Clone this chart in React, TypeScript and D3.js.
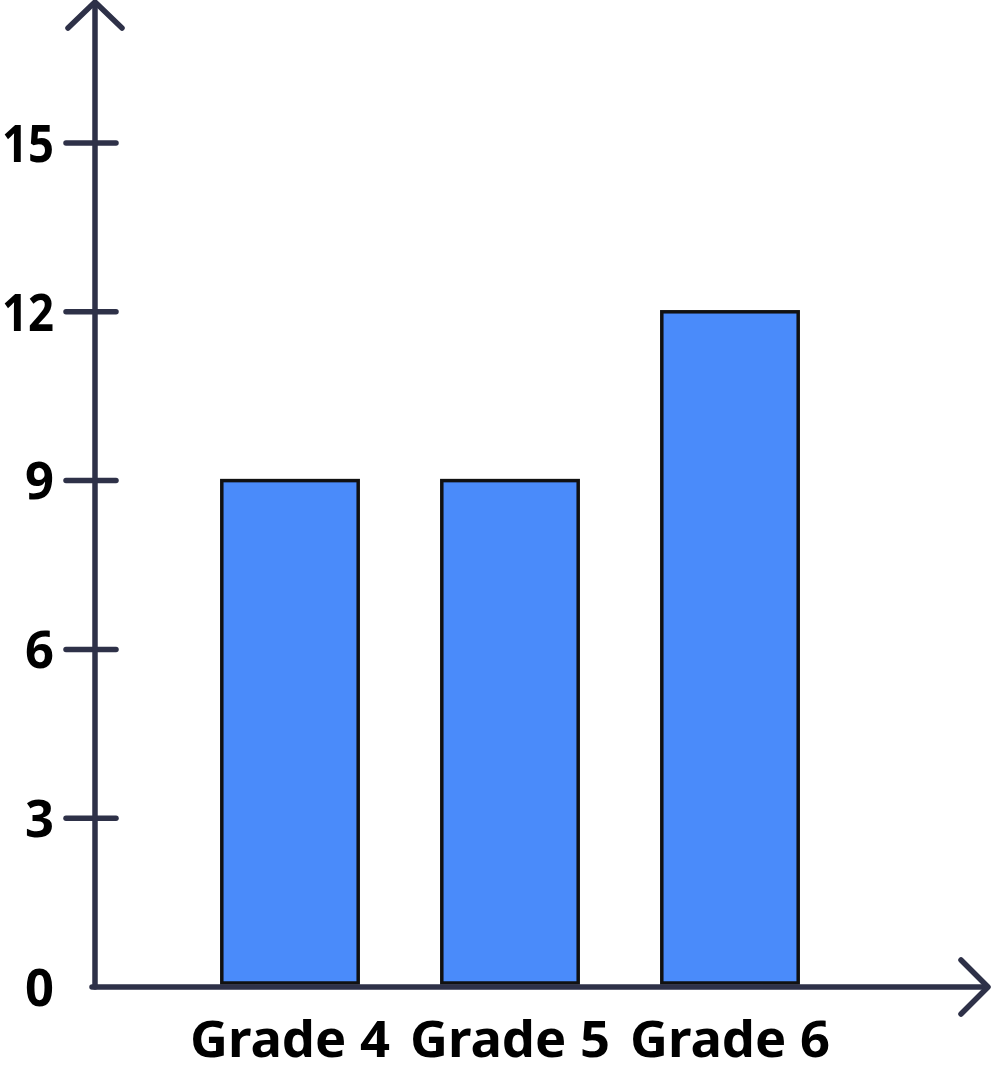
import {useEffect, useRef} from "react";
import * as d3 from "d3";

const categories = ["Grade 4", "Grade 5", "Grade 6"];
const values = [9, 9, 12];
const yTicks = [0, 3, 6, 9, 12, 15];

const W = 992, H = 1072;
const axisColor = "#2e3148";

const App = () => {
    const ref = useRef<SVGSVGElement | null>(null);

    useEffect(() => {
        const svg = d3.select(ref.current);
        svg.selectAll("*").remove();

        const x0 = 95, y0 = 987;
        // y scale: 0 at the x axis, 15 at y=143
        const y = d3.scaleLinear().domain([0, 15]).range([y0, 143]);
        const x = d3.scaleBand<string>()
            .domain(categories)
            .range([180, 840])
            .paddingInner(0.38)
            .paddingOuter(0.19);

        const font = "'Noto Sans', sans-serif";

        // bars
        svg.append("g")
            .selectAll("rect")
            .data(values)
            .join("rect")
            .attr("x", (d, i) => x(categories[i]) as number)
            .attr("y", d => y(d))
            .attr("width", x.bandwidth())
            .attr("height", d => y0 - 4 - y(d))
            .attr("fill", "#4a8bfa")
            .attr("stroke", "#111")
            .attr("stroke-width", 3.5);

        // ticks on the y axis
        svg.append("g")
            .selectAll("line")
            .data(yTicks.filter(t => t > 0))
            .join("line")
            .attr("x1", 66).attr("x2", 116)
            .attr("y1", d => y(d)).attr("y2", d => y(d))
            .attr("stroke", axisColor)
            .attr("stroke-width", 5.5)
            .attr("stroke-linecap", "round");

        svg.append("g")
            .selectAll("text")
            .data(yTicks)
            .join("text")
            .attr("x", 54)
            .attr("y", d => y(d))
            .attr("dy", "0.36em")
            .attr("text-anchor", "end")
            .attr("font-family", font)
            .attr("font-weight", 700)
            .attr("font-size", 52)
            .attr("textLength", d => (String(d).length > 1 ? 52 : 29))
            .attr("lengthAdjust", "spacingAndGlyphs")
            .attr("fill", "#000")
            .text(d => d);

        // axes with arrows
        const axes = svg.append("g")
            .attr("fill", "none")
            .attr("stroke", axisColor)
            .attr("stroke-width", 5.5)
            .attr("stroke-linecap", "round")
            .attr("stroke-linejoin", "round");
        axes.append("path").attr("d", `M${x0},${y0} L${x0},3`);
        axes.append("path").attr("d", `M68,28 L${x0},2 L122,28`);
        axes.append("path").attr("d", `M${x0 - 3},${y0} L987,${y0}`);
        axes.append("path").attr("d", `M961,960 L988,${y0} L961,1014`);

        // category labels
        svg.append("g")
            .selectAll("text")
            .data(categories)
            .join("text")
            .attr("x", d => (x(d) as number) + x.bandwidth() / 2)
            .attr("y", 1057)
            .attr("text-anchor", "middle")
            .attr("font-family", font)
            .attr("font-weight", 700)
            .attr("font-size", 50)
            .attr("textLength", 200)
            .attr("lengthAdjust", "spacingAndGlyphs")
            .attr("fill", "#000")
            .text(d => d);
    }, []);

    return (
        <svg ref={ref} width={W} height={H}
             style={{position: "absolute", left: 0, top: 0, background: "#fff"}}/>
    );
};

export default App;
